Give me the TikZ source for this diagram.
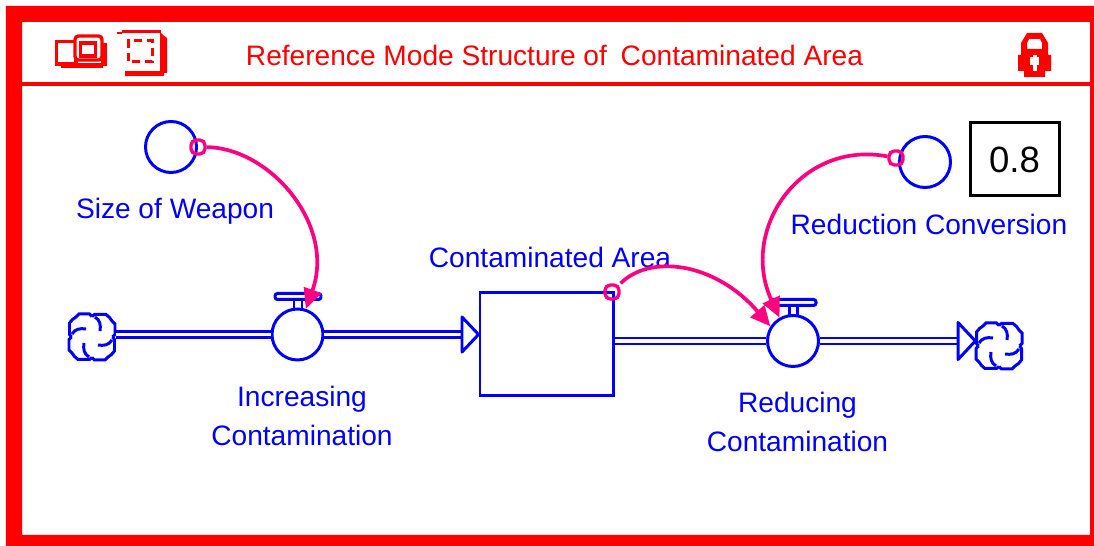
\documentclass[tikz,border=0pt]{standalone}
\usepackage{fontspec}
\setmainfont{Liberation Sans}
\definecolor{linkpink}{RGB}{255,0,128}
\usetikzlibrary{arrows.meta}
\tikzset{
  every node/.style={font=\fontsize{8}{11.3}\selectfont},
  bluelabel/.style={text=blue,align=center,inner sep=0pt},
  converter/.style={circle,draw=blue,line width=.85pt,minimum size=.51cm,inner sep=0pt},
  stock/.style={rectangle,draw=blue,line width=.85pt,minimum width=1.33cm,minimum height=1.03cm},
  cloudspot/.style={circle,minimum size=.46cm,inner sep=0pt},
  pipe/.style={draw=blue,line width=.7pt,double=white,double distance=.035cm},
  hollowhead/.style={draw=blue,fill=white,line width=.85pt,line join=round},
  valvetop/.style={draw=blue,fill=white,line width=.85pt,rounded corners=.7pt},
  linkdot/.style={rectangle,draw=linkpink,line width=.95pt,rounded corners=1.5pt,minimum size=.14cm,inner sep=0pt},
  linkline/.style={draw=linkpink,line width=1.05pt,-{Triangle[length=.2cm,width=.18cm]}},
  cloudmark/.pic={
    \foreach \a in {0,90,180,270} {
      \draw[blue,line width=.85pt,rotate=\a] (0,.205) -- (.025,.225) -- (.14,.225) -- (.175,.195) -- (.2,.16) -- (.23,.13) -- (.23,.025) -- (.205,0);
      \draw[blue,line width=.85pt,rotate=\a] (.03,.2) .. controls (.08,.17) and (.09,.12) .. (.08,.06);
    }
  }
}
\begin{document}
\begin{tikzpicture}
\useasboundingbox (0,0) rectangle (10.94,5.46);
\fill[red,even odd rule] (.06,0) rectangle (10.94,5.40) (.22,.11) rectangle (10.90,5.24); %window frame
\fill[red] (.22,4.60) rectangle (10.90,4.64);
\node[text=red,inner sep=0pt] (title) at (5.545,4.91) {Reference Mode Structure of\hspace{.06cm} Contaminated Area};
% window buttons
\draw[red,line width=.95pt] (.567,4.82) rectangle (.76,5.045);
\fill[red] (.61,4.78) rectangle (1.03,4.83);
\fill[red] (1.01,4.80) rectangle (1.07,5.03);
\draw[red,line width=.95pt,fill=white,rounded corners=1pt] (.75,4.86) rectangle (1.02,5.10);
\draw[red,line width=.95pt] (.805,4.90) rectangle (.955,5.03);
\fill[red] (1.22,5.13) rectangle (1.61,5.16);
\fill[red] (1.17,5.12) rectangle (1.22,5.14);
\fill[red] (1.60,4.73) -- (1.60,5.14) -- (1.63,5.11) -- (1.67,5.08) -- (1.67,4.73) -- cycle;
\fill[red] (1.25,4.70) rectangle (1.64,4.75);
\draw[red,line width=.95pt,dash pattern=on 2.3pt off 1.4pt] (1.285,4.845) rectangle (1.525,5.055);
% lock
\fill[red,even odd rule] (10.21,5.03) -- (10.27,5.13) -- (10.42,5.13) -- (10.48,5.03) -- (10.48,4.91) -- (10.51,4.91) -- (10.51,4.75) -- (10.45,4.75) -- (10.45,4.69) -- (10.24,4.69) -- (10.24,4.75) -- (10.18,4.75) -- (10.18,4.91) -- (10.21,4.91) -- cycle
  (10.27,4.97) -- (10.27,5.03) -- (10.29,5.07) -- (10.40,5.07) -- (10.42,5.03) -- (10.42,4.97) -- cycle;
\fill[white] (10.33,4.75) rectangle (10.37,4.91);
\fill[white] (10.30,4.81) rectangle (10.39,4.89);
% stock and flows
\node[stock] (area) at (5.465,2.015) {};
\pic at (.92,2.09) {cloudmark};
\node[cloudspot] (cloudA) at (.92,2.09) {};
\draw[valvetop] (2.75,2.465) rectangle (3.21,2.525);
\draw[blue,line width=.85pt] (2.94,2.465) -- (2.94,2.37) (3.02,2.465) -- (3.02,2.37);
\node[converter] (valveA) at (2.975,2.115) {};
\coordinate (headA) at (4.62,2.115);
\draw[pipe] (cloudA.east |- valveA.west) -- (valveA.west);
\draw[pipe] (valveA.east) -- (headA);
\draw[hollowhead] (headA) -- ++(0,.175) -- (area.west |- headA) -- (4.62,1.94) -- cycle;
\draw[valvetop] (7.70,2.405) rectangle (8.16,2.465);
\draw[blue,line width=.85pt] (7.89,2.405) -- (7.89,2.30) (7.97,2.405) -- (7.97,2.30);
\node[converter] (valveB) at (7.93,2.05) {};
\coordinate (headB) at (9.58,2.05);
\pic at (9.99,2.0) {cloudmark};
\node[cloudspot] (cloudB) at (9.99,2.0) {};
\draw[pipe] (area.east |- valveB.west) -- (valveB.west);
\draw[pipe] (valveB.east) -- (headB);
\draw[hollowhead] (headB) -- ++(0,.185) -- (cloudB.west |- headB) -- (9.58,1.865) -- cycle;
% converters and constant
\node[converter] (weapon) at (1.71,3.99) {};
\node[converter] (conversion) at (9.25,3.84) {};
\node[draw=black,line width=.85pt,minimum width=.89cm,minimum height=.73cm,inner sep=0pt,font=\fontsize{10.4}{12}\selectfont] (value) at (10.145,3.865) {0.8\hspace{.09cm}};
% labels
\node[bluelabel] (weaponlabel) at (1.75,3.35) {Size of Weapon};
\node[bluelabel] (conversionlabel) at (9.29,3.22) {Reduction Conversion};
\node[bluelabel] (arealabel) at (5.50,2.89) {Contaminated Area};
\node[bluelabel] (valveAlabel) at (3.02,1.30) {Increasing\\Contamination};
\node[bluelabel] (valveBlabel) at (7.975,1.24) {Reducing\\Contamination};
% links
\node[linkdot] (dotA) at (1.98,3.99) {};
\node[linkdot] (dotB) at (8.96,3.88) {};
\node[linkdot] (dotC) at (6.12,2.54) {};
\draw[linkline] (dotA) .. controls (2.70,3.98) and (3.36,3.21) .. (valveA.72);
\draw[linkline] (dotB) .. controls (8.00,4.06) and (7.39,3.16) .. (valveB.120);
\draw[linkline] (dotC) .. controls (6.50,2.92) and (7.15,2.84) .. (valveB.147);
\end{tikzpicture}
\end{document}
